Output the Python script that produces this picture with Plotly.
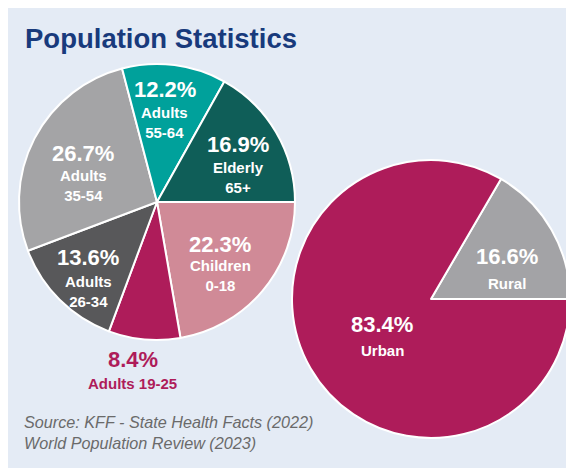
import plotly.graph_objects as go

# page body has an 8px margin; figure is sized to fill the rest of the window
OFF = 8
W, H = 566, 460

# ---- data ----
age_labels = ["Children 0-18", "Adults 19-25", "Adults 26-34", "Adults 35-54", "Adults 55-64", "Elderly 65+"]
age_values = [22.3, 8.4, 13.6, 26.7, 12.2, 16.9]
age_text = ["Children<br>0-18", "Adults 19-25", "Adults<br>26-34", "Adults<br>35-54", "Adults<br>55-64", "Elderly<br>65+"]
area_labels = ["Rural", "Urban"]
area_values = [16.6, 83.4]
title_text = "Population Statistics"
source_lines = ["Source: KFF - State Health Facts (2022)", "World Population Review (2023)"]

# ---- style ----
age_colors = ["#d08a97", "#ae1c5a", "#58585a", "#a4a4a6", "#00a19b", "#0f5e58"]
area_colors = ["#a3a3a6", "#ae1c5a"]
BG = "#e4ebf5"
FONT = "Liberation Sans"
# label positions in window pixels: (x, percent-line y, text-block y)
age_label_pos = [(220, 244, 275), (133, 359, 383), (88, 257, 291), (83, 154, 185), (165, 90, 122), (238, 144, 177)]
age_label_color = ["#ffffff", "#ae1c5a", "#ffffff", "#ffffff", "#ffffff", "#ffffff"]
area_label_pos = [(507, 256, 283), (382, 324, 350)]


def px(x):
    return (x - OFF) / W


def py(y):
    return 1 - (y - OFF) / H


def domain(cx, cy, r):
    return dict(x=[px(cx - r), px(cx + r)], y=[py(cy + r), py(cy - r)])


fig = go.Figure()
fig.add_trace(go.Pie(
    labels=age_labels, values=age_values, sort=False, direction="clockwise", rotation=90,
    marker=dict(colors=age_colors, line=dict(color="white", width=2)),
    textinfo="none", hoverinfo="label+percent", showlegend=False,
    domain=domain(157, 202, 138),
))
# Rural slice ends at 3 o'clock, going clockwise
rural_start = 90 - 360 * area_values[0] / sum(area_values)
fig.add_trace(go.Pie(
    labels=area_labels, values=area_values, sort=False, direction="clockwise", rotation=rural_start,
    marker=dict(colors=area_colors, line=dict(color="white", width=2)),
    textinfo="none", hoverinfo="label+percent", showlegend=False,
    domain=domain(431, 299, 139),
))

ann = []


def add_label(x, y1, y2, val, txt, color):
    ann.append(dict(x=px(x), y=py(y1), xref="paper", yref="paper", text=f"<b>{val:.1f}%</b>",
                    showarrow=False, xanchor="center", yanchor="middle",
                    font=dict(family=FONT, size=22, color=color)))
    ann.append(dict(x=px(x), y=py(y2), xref="paper", yref="paper", text=f"<b>{txt}</b>",
                    showarrow=False, xanchor="center", yanchor="middle",
                    font=dict(family=FONT, size=15, color=color)))


for (x, y1, y2), v, t, c in zip(age_label_pos, age_values, age_text, age_label_color):
    add_label(x, y1, y2, v, t, c)
for (x, y1, y2), v, t in zip(area_label_pos, area_values, area_labels):
    add_label(x, y1, y2, v, t, "#ffffff")

ann.append(dict(x=px(23), y=py(39), xref="paper", yref="paper", text=f"<b>{title_text}</b>",
                showarrow=False, xanchor="left", yanchor="middle",
                font=dict(family=FONT, size=27.5, color="#183a7c")))
ann.append(dict(x=px(22), y=py(432), xref="paper", yref="paper", text="<i>" + "<br>".join(source_lines) + "</i>",
                showarrow=False, xanchor="left", yanchor="middle", align="left",
                font=dict(family=FONT, size=16.2, color="#6a6a6a")))

fig.update_layout(
    width=W, height=H, margin=dict(l=0, r=0, t=0, b=0),
    paper_bgcolor=BG, plot_bgcolor=BG,
    annotations=ann,
)
fig.write_html("out.html")
